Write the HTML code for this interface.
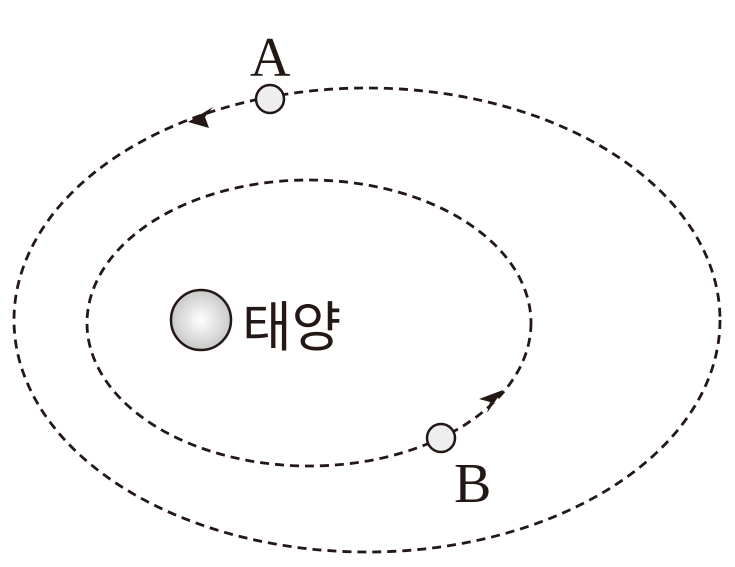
<!DOCTYPE html>
<html><head><meta charset="utf-8"><style>html,body{margin:0;padding:0;background:#fff}svg{display:block}</style></head>
<body>
<svg width="735" height="567" viewBox="0 0 735 567" xmlns="http://www.w3.org/2000/svg">
<defs><radialGradient id="g" cx="0.5" cy="0.5" r="0.5"><stop offset="0" stop-color="#fff"/><stop offset="1" stop-color="#c9c9c9"/></radialGradient></defs>
<ellipse cx="367" cy="320" rx="353" ry="232" fill="none" stroke="#231815" stroke-width="2.8" stroke-dasharray="9 6"/>
<ellipse cx="309" cy="323" rx="222" ry="143" fill="none" stroke="#231815" stroke-width="2.8" stroke-dasharray="9 6"/>
<polygon points="188,122 213,107 205,117 209,128" fill="#231815"/>
<polygon points="503,390 487,413 490,402 479,399" fill="#231815"/>
<circle cx="201" cy="320" r="30" fill="url(#g)" stroke="#231815" stroke-width="2.5"/>
<text x="242" y="346" font-family="Liberation Sans, Noto Sans CJK KR, sans-serif" font-size="54" fill="#231815">태양</text>
<circle cx="270" cy="99" r="14" fill="#eee" stroke="#231815" stroke-width="2.5"/>
<circle cx="441" cy="438" r="14" fill="#eee" stroke="#231815" stroke-width="2.5"/>
<text x="250" y="76" font-family="Liberation Serif, serif" font-size="56" fill="#231815">A</text>
<text x="454" y="502" font-family="Liberation Serif, serif" font-size="56" fill="#231815">B</text>
</svg>
</body></html>
